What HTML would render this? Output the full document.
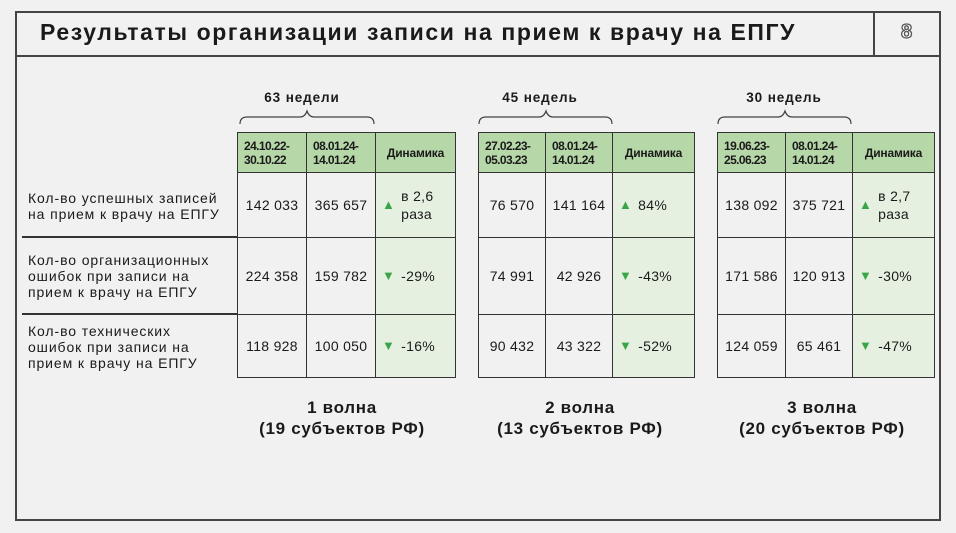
<!DOCTYPE html>
<html><head><meta charset="utf-8"><style>
*{margin:0;padding:0;box-sizing:border-box}
body{width:956px;height:533px;background:#f1f1f1;font-family:"Liberation Sans","Noto Sans CJK SC",sans-serif;color:#1a1a1a;position:relative;overflow:hidden}
.a{position:absolute}
.c{position:absolute;border:1.3px solid #333;display:flex;align-items:center;justify-content:center;font-size:14px;letter-spacing:0.3px;text-align:center}
.h{background:#b6d7a8;font-weight:bold;font-size:12px;letter-spacing:-0.6px;line-height:14px;justify-content:flex-start;padding-left:6px;text-align:left}
.hd{justify-content:center;padding-left:0;font-size:12px;letter-spacing:-0.2px}
.d{background:#e6f0e0;justify-content:flex-start;padding-left:6px;text-align:left;line-height:18px}
.up{color:#3aa64a;font-size:13px;margin-right:6px}
.lbl{position:absolute;left:28px;font-size:14px;line-height:16px;letter-spacing:0.9px}
.w{position:absolute;text-align:center;font-weight:bold;font-size:17px;line-height:21px;width:260px;letter-spacing:0.7px}
.wk{position:absolute;font-weight:bold;font-size:13.5px;text-align:center;width:120px;letter-spacing:0.9px}
</style></head><body>
<div class="a" style="left:15px;top:11px;width:926px;height:510px;border:2px solid #444"></div>
<div class="a" style="left:15px;top:55px;width:926px;height:2px;background:#444"></div>
<div class="a" style="left:873px;top:11px;width:2px;height:45px;background:#444"></div>
<div class="a" style="left:40px;top:19px;font-size:23px;font-weight:bold;letter-spacing:1.6px">Результаты организации записи на прием к врачу на ЕПГУ</div>
<div class="a" style="left:901px;top:21px;font-size:20px;color:#fff;-webkit-text-stroke:1.3px #555;font-weight:bold">8</div>

<div class="a" style="left:22px;top:236px;width:216px;height:2px;background:#333"></div>
<div class="a" style="left:22px;top:313px;width:216px;height:2px;background:#333"></div>
<div class="lbl" style="top:190px">Кол-во успешных записей<br>на прием к врачу на ЕПГУ</div>
<div class="lbl" style="top:252px">Кол-во организационных<br>ошибок при записи на<br>прием к врачу на ЕПГУ</div>
<div class="lbl" style="top:323px">Кол-во технических<br>ошибок при записи на<br>прием к врачу на ЕПГУ</div>

<svg class="a" style="left:0;top:0" width="956" height="533"><g fill="none" stroke="#444" stroke-width="1.2">
<path d="M240,124 Q240,117 247,117 L300,117 Q305,117 307,111 Q309,117 314,117 L367,117 Q374,117 374,124"/>
<path d="M479,124 Q479,117 486,117 L539,117 Q544,117 546,111 Q548,117 553,117 L605,117 Q612,117 612,124"/>
<path d="M718,124 Q718,117 725,117 L778,117 Q783,117 785,111 Q787,117 792,117 L844,117 Q851,117 851,124"/>
</g></svg>
<div class="wk" style="left:242px;top:90px">63 недели</div>
<div class="wk" style="left:480px;top:90px">45 недель</div>
<div class="wk" style="left:724px;top:90px">30 недель</div>

<!-- T1 -->
<div class="c h" style="left:237px;top:132px;width:70px;height:41px">24.10.22-<br>30.10.22</div>
<div class="c h" style="left:306px;top:132px;width:70px;height:41px">08.01.24-<br>14.01.24</div>
<div class="c h hd" style="left:375px;top:132px;width:81px;height:41px">Динамика</div>
<div class="c" style="left:237px;top:172px;width:70px;height:66px">142 033</div>
<div class="c" style="left:306px;top:172px;width:70px;height:66px">365 657</div>
<div class="c d" style="left:375px;top:172px;width:81px;height:66px"><span class="up">▲</span><span>в 2,6<br>раза</span></div>
<div class="c" style="left:237px;top:237px;width:70px;height:78px">224 358</div>
<div class="c" style="left:306px;top:237px;width:70px;height:78px">159 782</div>
<div class="c d" style="left:375px;top:237px;width:81px;height:78px"><span class="up">▼</span>-29%</div>
<div class="c" style="left:237px;top:314px;width:70px;height:64px">118 928</div>
<div class="c" style="left:306px;top:314px;width:70px;height:64px">100 050</div>
<div class="c d" style="left:375px;top:314px;width:81px;height:64px"><span class="up">▼</span>-16%</div>

<!-- T2 -->
<div class="c h" style="left:478px;top:132px;width:68px;height:41px">27.02.23-<br>05.03.23</div>
<div class="c h" style="left:545px;top:132px;width:68px;height:41px">08.01.24-<br>14.01.24</div>
<div class="c h hd" style="left:612px;top:132px;width:83px;height:41px">Динамика</div>
<div class="c" style="left:478px;top:172px;width:68px;height:66px">76 570</div>
<div class="c" style="left:545px;top:172px;width:68px;height:66px">141 164</div>
<div class="c d" style="left:612px;top:172px;width:83px;height:66px"><span class="up">▲</span>84%</div>
<div class="c" style="left:478px;top:237px;width:68px;height:78px">74 991</div>
<div class="c" style="left:545px;top:237px;width:68px;height:78px">42 926</div>
<div class="c d" style="left:612px;top:237px;width:83px;height:78px"><span class="up">▼</span>-43%</div>
<div class="c" style="left:478px;top:314px;width:68px;height:64px">90 432</div>
<div class="c" style="left:545px;top:314px;width:68px;height:64px">43 322</div>
<div class="c d" style="left:612px;top:314px;width:83px;height:64px"><span class="up">▼</span>-52%</div>

<!-- T3 -->
<div class="c h" style="left:717px;top:132px;width:69px;height:41px">19.06.23-<br>25.06.23</div>
<div class="c h" style="left:785px;top:132px;width:68px;height:41px">08.01.24-<br>14.01.24</div>
<div class="c h hd" style="left:852px;top:132px;width:83px;height:41px">Динамика</div>
<div class="c" style="left:717px;top:172px;width:69px;height:66px">138 092</div>
<div class="c" style="left:785px;top:172px;width:68px;height:66px">375 721</div>
<div class="c d" style="left:852px;top:172px;width:83px;height:66px"><span class="up">▲</span><span>в 2,7<br>раза</span></div>
<div class="c" style="left:717px;top:237px;width:69px;height:78px">171 586</div>
<div class="c" style="left:785px;top:237px;width:68px;height:78px">120 913</div>
<div class="c d" style="left:852px;top:237px;width:83px;height:78px"><span class="up">▼</span>-30%</div>
<div class="c" style="left:717px;top:314px;width:69px;height:64px">124 059</div>
<div class="c" style="left:785px;top:314px;width:68px;height:64px">65 461</div>
<div class="c d" style="left:852px;top:314px;width:83px;height:64px"><span class="up">▼</span>-47%</div>

<div class="w" style="left:212px;top:397px">1 волна<br>(19 субъектов РФ)</div>
<div class="w" style="left:450px;top:397px">2 волна<br>(13 субъектов РФ)</div>
<div class="w" style="left:692px;top:397px">3 волна<br>(20 субъектов РФ)</div>
</body></html>
